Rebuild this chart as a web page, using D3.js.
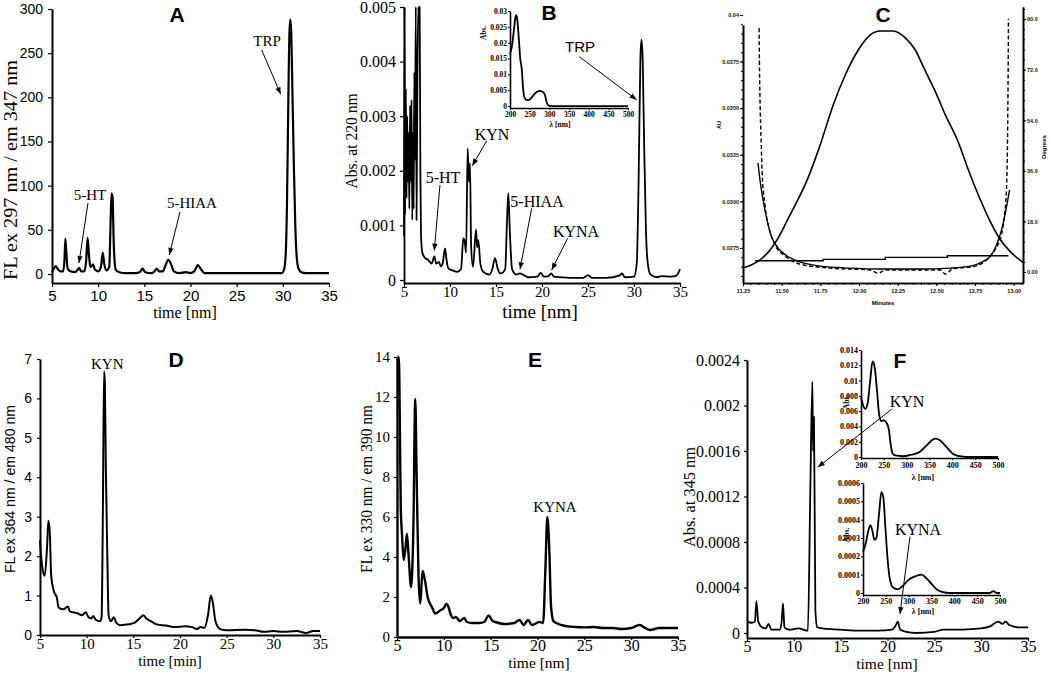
<!DOCTYPE html>
<html><head><meta charset="utf-8">
<script src="https://cdn.jsdelivr.net/npm/d3@7"></script>
<style>body{margin:0;background:#fff}svg{display:block}</style>
</head><body>
<svg id="c" width="1050" height="674"></svg>
<script>
// ---------- DATA ----------
const timeTicks = [5,10,15,20,25,30,35];
const waveTicks = [200,250,300,350,400,450,500];
const ticksA = [0,50,100,150,200,250,300];
const ticksB = [0,0.001,0.002,0.003,0.004,0.005];
const ticksBInset = [0,0.005,0.01,0.015,0.02,0.025,0.03];
const ticksD = [0,1,2,3,4,5,6,7];
const ticksE = [0,2,4,6,8,10,12,14];
const ticksF = [0,0.0004,0.0008,0.0012,0.0016,0.002,0.0024];
const ticksF1 = [0,0.002,0.004,0.006,0.008,0.01,0.012,0.014];
const ticksF2 = [0,0.0001,0.0002,0.0003,0.0004,0.0005,0.0006];
const cTimeTicks = [11.25,11.5,11.75,12.0,12.25,12.5,12.75,13.0];
const cLeftTicks = [0.0400,0.0375,0.0350,0.0325,0.0300,0.0275];
const cRightTicks = [0,18,36,54,72,90];

// Panel A: FL ex 297 / em 347
const traceA = [[5.0,2],[5.2,6],[5.4,9],[5.6,6],[5.9,3],[6.2,3],[6.35,15],[6.45,40],[6.55,25],[6.7,6],[7.0,3],[7.5,2],[7.8,5],[7.95,7],[8.15,3],[8.5,3],[8.7,15],[8.85,41],[9.0,22],[9.15,8],[9.3,9],[9.45,11],[9.65,5],[10.0,3],[10.3,8],[10.5,24],[10.65,12],[10.9,4],[11.2,8],[11.35,60],[11.45,91],[11.55,88],[11.7,30],[11.9,5],[12.3,2],[13,1],[14,1],[14.5,2],[14.8,6],[15.1,2],[15.8,1],[16.1,3],[16.35,6],[16.6,3],[17.0,3],[17.3,10],[17.6,16],[17.9,11],[18.2,3],[18.8,1],[19.5,2],[20.0,1],[20.4,3],[20.8,10],[21.1,6],[21.5,1],[23,1],[26,1],[29,1],[29.9,1],[30.1,4],[30.3,20],[30.45,80],[30.6,200],[30.72,275],[30.82,288],[30.92,270],[31.05,200],[31.2,120],[31.35,55],[31.5,20],[31.7,6],[32,2],[32.5,1],[35,1]];

// Panel B: Abs 220 nm
const traceB = [[5.0,0.0008],[5.05,0.005],[5.12,0.0012],[5.2,0.0035],[5.28,0.0015],[5.35,0.003],[5.42,0.0018],[5.5,0.0027],[5.58,0.0013],[5.66,0.0032],[5.74,0.0018],[5.82,0.0033],[5.9,0.0011],[5.98,0.0027],[6.05,0.0013],[6.12,0.0038],[6.2,0.0022],[6.28,0.005],[6.36,0.0011],[6.45,0.0035],[6.55,0.005],[6.62,0.0048],[6.7,0.005],[6.78,0.002],[6.85,0.0008],[7.0,0.0005],[7.3,0.0004],[7.6,0.00037],[8.0,0.0003],[8.3,0.00043],[8.5,0.0003],[8.8,0.00033],[9.0,0.00025],[9.2,0.0003],[9.46,0.00058],[9.6,0.0004],[9.8,0.00022],[10.2,0.00018],[10.8,0.00015],[11.2,0.0002],[11.45,0.00076],[11.6,0.0007],[11.75,0.0005],[11.92,0.00241],[12.05,0.0018],[12.17,0.00214],[12.3,0.0006],[12.5,0.00024],[12.83,0.00092],[12.95,0.0006],[13.08,0.00073],[13.3,0.0003],[13.6,0.00015],[14.3,0.0001],[14.6,0.0002],[14.89,0.0004],[15.2,0.0002],[15.5,0.00012],[16.0,0.0002],[16.2,0.0011],[16.34,0.00159],[16.5,0.0009],[16.75,0.0002],[17.2,0.0001],[17.6,0.00012],[18.5,0.00005],[19.5,0.00006],[19.85,0.00013],[20.2,0.00006],[20.7,0.00007],[21.0,0.00012],[21.3,0.00006],[22,0.00005],[23,0.00004],[24.5,0.00004],[25,0.00009],[25.4,0.00004],[27,0.00004],[28.4,0.00008],[28.7,0.00012],[29,0.00005],[30.0,0.00006],[30.3,0.0003],[30.5,0.0018],[30.7,0.0041],[30.82,0.0044],[30.95,0.004],[31.1,0.0025],[31.3,0.0009],[31.5,0.0003],[31.8,0.0001],[32.5,0.00005],[33,0.00007],[34,0.00006],[34.6,0.00008],[35,0.0002]];
const spectrumB = [[200,0.0165],[205,0.019],[210,0.024],[213,0.0275],[215.5,0.0287],[218,0.0278],[222,0.022],[226,0.015],[230,0.0115],[233,0.006],[236,0.003],[241,0.002],[247,0.0019],[255,0.0027],[263,0.0039],[270,0.0046],[277,0.0048],[284,0.0044],[289,0.0035],[292,0.0018],[295,0.0006],[299,0.0001],[320,0],[500,0]];

// Panel C: peak purity
const cPeak = [[11.250,0.02643],[11.341,0.02675],[11.425,0.02739],[11.470,0.02793],[11.554,0.02927],[11.665,0.03115],[11.749,0.03303],[11.833,0.03517],[11.911,0.03678],[11.995,0.03812],[12.073,0.03893],[12.137,0.03914],[12.222,0.03914],[12.299,0.03877],[12.364,0.03812],[12.416,0.03721],[12.494,0.03587],[12.558,0.03464],[12.636,0.03329],[12.707,0.03168],[12.785,0.03007],[12.850,0.02889],[12.915,0.02793],[12.979,0.02729],[13.064,0.02670]];
const cPurity = [[11.347,38.8],[11.360,32.7],[11.380,25.6],[11.405,18.5],[11.438,12.1],[11.477,8.5],[11.535,5.7],[11.619,3.6],[11.749,2.1],[11.943,1.4],[12.137,1.1],[12.396,1.1],[12.591,1.4],[12.720,2.1],[12.798,3.6],[12.850,5.7],[12.889,9.6],[12.921,14.9],[12.947,21.3],[12.973,29.2]];
const cNoise = [[11.354,86.8],[11.356,75.4],[11.360,61.2],[11.367,47.0],[11.373,36.3],[11.392,23.8],[11.418,15.7],[11.457,9.6],[11.522,5.7],[11.619,2.8],[11.813,1.4],[12.073,0.7],[12.124,-0.4],[12.170,0.7],[12.526,0.7],[12.558,-0.7],[12.604,1.1],[12.753,2.1],[12.837,5.0],[12.889,8.9],[12.921,13.2],[12.940,20.3],[12.953,29.2],[12.960,47.0],[12.964,71.9],[12.966,90.0]];
const cThreshold = [[11.328,4.0],[11.768,4.5],[12.170,5.2],[12.571,5.8],[12.966,5.8]];

// Panel D: FL ex 364 / em 480
const traceD = [[5.0,2.4],[5.2,1.8],[5.5,1.5],[5.75,2.2],[5.9,2.9],[6.05,2.6],[6.2,1.5],[6.5,1.1],[6.8,0.95],[7.0,0.7],[7.5,0.65],[8.0,0.72],[8.2,0.6],[9,0.55],[9.5,0.5],[9.9,0.58],[10.2,0.45],[10.5,0.42],[10.7,0.48],[11.0,0.38],[11.4,0.35],[11.6,0.45],[11.75,3.5],[11.86,6.68],[11.95,6.4],[12.05,4.3],[12.2,2.2],[12.35,0.5],[12.6,0.35],[12.9,0.45],[13.2,0.3],[13.6,0.25],[14.5,0.27],[15.2,0.32],[15.8,0.45],[16.05,0.5],[16.4,0.42],[17,0.33],[17.5,0.27],[18.5,0.24],[19.5,0.2],[20.5,0.22],[21.3,0.2],[21.8,0.15],[22.2,0.2],[22.6,0.18],[23.0,0.5],[23.3,1.0],[23.5,0.85],[23.8,0.35],[24.3,0.15],[25,0.12],[27,0.13],[28,0.12],[29,0.08],[30,0.1],[31,0.08],[32.5,0.1],[33.5,0.05],[34.3,0.1],[35,0.1]];

// Panel E: FL ex 330 / em 390
const traceE = [[5.05,14],[5.2,14],[5.3,10.8],[5.4,6.5],[5.55,5.0],[5.71,3.85],[5.9,4.4],[6.06,5.17],[6.25,4.0],[6.5,2.5],[6.75,5.5],[6.95,11.9],[7.1,8.0],[7.3,3.0],[7.48,1.67],[7.73,3.3],[8.0,2.8],[8.27,2.0],[8.73,1.5],[9.1,1.17],[9.6,1.33],[10.0,1.45],[10.25,1.65],[10.5,1.5],[10.7,1.17],[11.0,0.95],[11.3,1.0],[11.7,0.8],[12.2,0.95],[12.45,0.75],[13.0,0.7],[13.8,0.7],[14.3,0.75],[14.8,1.08],[15.2,0.8],[15.5,0.75],[16.5,0.65],[17.5,0.7],[18.1,0.85],[18.5,0.6],[19.0,0.85],[19.4,0.6],[20.2,0.75],[20.6,0.7],[20.85,3.5],[21.05,6.0],[21.25,4.5],[21.45,1.5],[21.7,0.8],[22,0.7],[23,0.55],[24,0.5],[25,0.48],[26,0.5],[27,0.45],[28,0.45],[29,0.4],[30,0.45],[30.9,0.6],[31.5,0.45],[32,0.35],[33,0.45],[34,0.45],[35,0.45]];

// Panel F: Abs 345 nm
const traceF = [[5,0.0001],[5.5,0.00009],[5.85,0.0001],[6.0,0.00028],[6.2,0.0001],[6.6,0.00005],[7.0,0.00004],[7.3,0.00008],[7.6,0.00003],[8.5,0.00003],[8.7,0.0001],[8.84,0.00026],[9.0,0.00005],[9.5,0.00003],[10.5,0.00004],[11.5,0.00002],[11.75,0.0012],[11.98,0.00221],[12.05,0.0016],[12.15,0.0019],[12.3,0.0002],[12.5,0.00005],[13,0.00004],[15,0.00003],[17,0.00002],[19,0.00002],[20.5,0.00003],[20.9,0.00007],[21.1,0.0001],[21.35,0.00003],[22,0.00001],[23,0.0],[25,0.00001],[26,0.00003],[28,0.00003],[30,0.00004],[31,0.00006],[31.8,0.0001],[32.3,0.00008],[32.6,0.0001],[33,0.00007],[34,0.00005],[35,0.00005]];
const spectrumKYN = [[200,0.0079],[204.4,0.0068],[209.4,0.0063],[214.5,0.007],[220.3,0.0101],[225.4,0.0125],[229.8,0.0118],[234.9,0.0088],[239.9,0.0055],[244.3,0.0047],[250.8,0.0048],[256.6,0.0044],[261,0.0036],[264.6,0.0018],[269,0.0005],[274.8,0.0002],[293,0.0001],[311.1,0.0003],[329.3,0.0007],[345.2,0.0016],[362,0.0024],[372.8,0.0022],[387.4,0.0013],[401.9,0.0004],[416.4,0.0001],[431,0],[500,0]];
const spectrumKYNA = [[200,0.000224],[205.9,0.00027],[211.7,0.00034],[216.1,0.00037],[220.5,0.00034],[224.9,0.00029],[229.3,0.0003],[235.1,0.00043],[240.2,0.00055],[244.6,0.00052],[249,0.00036],[253.4,0.0002],[258.5,0.00008],[265.8,0.00003],[276.8,0.00002],[287.8,0.00004],[298.8,0.00007],[313.4,0.00009],[328,0.0001],[339,0.00008],[350,0.00005],[361,0.00002],[375.6,0.000004],[390.2,0],[478,0],[485.4,0.00001],[492.7,0],[500,0]];

// Annotations (data coordinates): text, t, v, arrow [t0,v0,t1,v1]
const notesA = [{text:"5-HT",t:9.12,v:89.4,arrow:[8.90,80.4,7.92,12.5]},{text:"5-HIAA",t:20.16,v:80.4,arrow:[18.86,70.2,17.70,21.5]},{text:"TRP",t:28.29,v:263.8,arrow:[27.71,253.6,29.77,203.4]}];
const notesB = [{text:"5-HT",t:9.24,v:0.001886,arrow:[8.91,0.00174,8.29,0.000537]},{text:"KYN",t:14.57,v:0.002674,arrow:[13.99,0.002551,12.42,0.002093]},{text:"5-HIAA",t:19.46,v:0.001447,arrow:[18.88,0.001313,17.61,0.000196]},{text:"KYNA",t:23.70,v:0.000897,arrow:[22.79,0.000764,21.05,0.000183]}];
const notesBTRP = [{text:"TRP",t:24.13,v:0.004267,arrow:[24.05,0.00409,30.29,0.0033]}];
const notesD = [{text:"KYN",t:12.21,v:6.89}];
const notesE = [{text:"KYNA",t:21.87,v:6.5}];
const notesF = [{text:"KYN",t:22.08,v:0.00204,arrow:[20.45,0.001967,12.55,0.001457]},{text:"KYNA",t:23.26,v:0.000914,arrow:[22.40,0.000847,21.33,0.000167]}];

// ---------- DRAWING ----------
const SERIF = "'Liberation Serif','Times New Roman',serif";
const SANS = "'Liberation Sans',Arial,sans-serif";
const svg = d3.select("#c");
svg.append("rect").attr("width",1050).attr("height",674).attr("fill","#fff");
svg.append("defs").append("marker").attr("id","arr").attr("viewBox","0 0 10 10")
  .attr("refX",10).attr("refY",5).attr("markerWidth",8).attr("markerHeight",7)
  .attr("markerUnits","userSpaceOnUse").attr("orient","auto")
  .append("path").attr("d","M0,1.2L10,5L0,8.8z").attr("fill","#000");

const fmt = d => String(d);

function chart(o){
  const x = d3.scaleLinear().domain(o.xd).range(o.xr);
  const y = d3.scaleLinear().domain(o.yd).range(o.yr);
  const g = svg.append("g");
  const ax = g.append("g").attr("transform",`translate(0,${o.yr[0]})`)
    .call(d3.axisBottom(x).tickValues(o.xt).tickFormat(fmt).tickSize(o.ts).tickSizeOuter(0).tickPadding(o.xp));
  ax.attr("font-family",o.xfont).attr("font-size",o.xfs).attr("font-weight",o.fw||"normal");
  const ay = g.append("g").attr("transform",`translate(${o.xr[0]},0)`)
    .call(d3.axisLeft(y).tickValues(o.yt).tickFormat(fmt).tickSize(o.ts).tickSizeOuter(0).tickPadding(o.yp));
  ay.attr("font-family",o.yfont).attr("font-size",o.yfs).attr("font-weight",o.fw||"normal");
  g.selectAll(".domain").attr("stroke-width",o.aw).attr("stroke","#000");
  g.selectAll(".tick line").attr("stroke-width",o.tw||1.2).attr("stroke","#000");
  g.selectAll(".tick text").attr("fill","#000");
  g.append("path").datum(o.data).attr("fill","none").attr("stroke","#000")
    .attr("stroke-width",o.lw).attr("stroke-linejoin","round")
    .attr("d",d3.line().x(d=>x(d[0])).y(d=>y(d[1])).curve(d3.curveMonotoneX));
  return {x,y,g};
}
function notes(c, list, font, size){
  list.forEach(n=>{
    c.g.append("text").attr("x",c.x(n.t)).attr("y",c.y(n.v)).attr("dy","0.35em")
      .attr("text-anchor","middle").attr("font-family",font).attr("font-size",size).text(n.text);
    if(n.arrow){
      const a=n.arrow;
      c.g.append("line").attr("x1",c.x(a[0])).attr("y1",c.y(a[1])).attr("x2",c.x(a[2])).attr("y2",c.y(a[3]))
        .attr("stroke","#000").attr("stroke-width",1).attr("marker-end","url(#arr)");
    }
  });
}
function vtitle(txt,x,y,font,size,len,weight){
  svg.append("text").attr("transform",`translate(${x},${y}) rotate(-90)`).attr("text-anchor","middle")
    .attr("font-family",font).attr("font-size",size).attr("font-weight",weight||"normal")
    .attr("textLength",len).attr("lengthAdjust","spacingAndGlyphs").text(txt);
}
function htitle(txt,x,y,font,size,weight){
  svg.append("text").attr("x",x).attr("y",y).attr("text-anchor","middle")
    .attr("font-family",font).attr("font-size",size).attr("font-weight",weight||"normal").text(txt);
}

// Panel A
const cA = chart({xd:[5,35],xr:[52,329],yd:[-10.2,300],yr:[283,9],xt:timeTicks,yt:ticksA,
  ts:4,xp:3,yp:5,xfont:SANS,xfs:15,yfont:SANS,yfs:14,aw:2,lw:2.2,data:traceA});
notes(cA,notesA,SERIF,15);
vtitle("FL ex 297 nm / em 347 nm",17,170,SERIF,18,220);
htitle("time [nm]",185,318,SERIF,16);
htitle("A",177,22,SANS,21,"bold");

// Panel B
const cB = chart({xd:[5,35],xr:[404,680],yd:[-0.000055,0.005],yr:[283,7],xt:timeTicks,yt:ticksB,
  ts:4,xp:-1,yp:4,xfont:SERIF,xfs:15,yfont:SERIF,yfs:16,aw:1.8,lw:1.8,data:traceB});
notes(cB,notesB,SERIF,16);
notes(cB,notesBTRP,SANS,15);
vtitle("Abs. at 220 nm",357,141,SERIF,16,95);
htitle("time [nm]",540,318,SERIF,19);
htitle("B",549,20,SANS,21,"bold");
const cBi = chart({xd:[200,500],xr:[510,628],yd:[-0.0006,0.03],yr:[108,11],xt:waveTicks,yt:ticksBInset,
  ts:2,xp:2,yp:1,xfont:SERIF,xfs:7.5,yfont:SERIF,yfs:7.5,fw:"bold",aw:1.6,lw:1.8,tw:1,data:spectrumB});
vtitle("Abs.",486,33,SERIF,7.5,14,"bold");
htitle("λ [nm]",560,127,SERIF,7.5,"bold");

// Panel C
(function(){
  const x = d3.scaleLinear().domain([11.25,13.06]).range([743,1023]);
  const yl = d3.scaleLinear().domain([0.02562,0.03946]).range([283,25]);
  const yr = d3.scaleLinear().domain([-3.9,94.3]).range([283,7]);
  const g = svg.append("g");
  const small = s => s.attr("font-family",SANS).attr("font-size",5.5).attr("font-weight","bold");
  const minorX = d3.range(11.25,13.06,0.05), minorL = d3.range(0.0260,0.0395,0.0005), minorR = d3.range(0,94,3.6);
  g.append("g").attr("transform","translate(0,283)").call(d3.axisBottom(x).tickValues(minorX).tickFormat("").tickSize(2).tickSizeOuter(0));
  g.append("g").attr("transform","translate(0,283)").call(d3.axisBottom(x).tickValues(cTimeTicks).tickFormat(d3.format(".2f")).tickSize(3).tickSizeOuter(0).tickPadding(3)).call(small);
  g.append("g").attr("transform","translate(743,0)").call(d3.axisLeft(yl).tickValues(minorL).tickFormat("").tickSize(2).tickSizeOuter(0));
  g.append("g").attr("transform","translate(743,0)").call(d3.axisLeft(yl).tickValues(cLeftTicks).tickFormat(d=>d===0.04?"0.04":d3.format(".4f")(d)).tickSize(3).tickSizeOuter(0).tickPadding(1)).call(small);
  g.append("g").attr("transform","translate(1023,0)").call(d3.axisRight(yr).tickValues(minorR).tickFormat("").tickSize(2).tickSizeOuter(0));
  g.append("g").attr("transform","translate(1023,0)").call(d3.axisRight(yr).tickValues(cRightTicks).tickFormat(d=>d===0?"0.00":d.toFixed(1)).tickSize(3).tickSizeOuter(0).tickPadding(1)).call(small);
  g.selectAll(".domain").attr("stroke-width",1.6).attr("stroke","#000");
  g.selectAll(".tick line").attr("stroke","#000");
  g.selectAll(".tick text").attr("fill","#111");
  const lineL = d3.line().x(d=>x(d[0])).y(d=>yl(d[1])).curve(d3.curveMonotoneX);
  const lineR = d3.line().x(d=>x(d[0])).y(d=>yr(d[1])).curve(d3.curveMonotoneX);
  g.append("path").datum(cPeak).attr("d",lineL).attr("fill","none").attr("stroke","#000").attr("stroke-width",1.6);
  g.append("path").datum(cNoise).attr("d",lineR).attr("fill","none").attr("stroke","#000").attr("stroke-width",1.4).attr("stroke-dasharray","4,2.5");
  g.append("path").datum(cPurity).attr("d",lineR).attr("fill","none").attr("stroke","#000").attr("stroke-width",1.4);
  g.append("path").datum(cThreshold).attr("d",d3.line().x(d=>x(d[0])).y(d=>yr(d[1])).curve(d3.curveStepAfter)).attr("fill","none").attr("stroke","#000").attr("stroke-width",1.4);
  vtitle("AU",721,125,SANS,6,8,"bold");
  vtitle("Degrees",1046,147,SANS,6,24,"bold");
  htitle("Minutes",883,305,SANS,6,"bold");
  htitle("C",883,22,SANS,21,"bold");
})();

// Panel D
const cD = chart({xd:[5,35],xr:[40,320],yd:[0,7],yr:[635,359],xt:timeTicks,yt:ticksD,
  ts:3,xp:0.5,yp:5,xfont:SERIF,xfs:15,yfont:SANS,yfs:14,aw:2,lw:2,data:traceD});
notes(cD,notesD,SERIF,15);
vtitle("FL ex 364 nm / em 480 nm",15,489,SANS,14.5,168);
htitle("time [min]",170,666,SERIF,15);
htitle("D",176,367,SANS,21,"bold");

// Panel E
const cE = chart({xd:[5,35],xr:[397,678],yd:[0,14],yr:[637,357],xt:timeTicks,yt:ticksE,
  ts:3,xp:0,yp:4,xfont:SERIF,xfs:16,yfont:SERIF,yfs:15,aw:2.4,lw:2.4,data:traceE});
notes(cE,notesE,SERIF,15);
vtitle("FL ex 330 nm / em 390 nm",372,489,SERIF,16,168);
htitle("time [nm]",539,668,SERIF,15.5);
htitle("E",535,367,SANS,21,"bold");

// Panel F
const cF = chart({xd:[5,35],xr:[747,1028],yd:[-0.000044,0.0024],yr:[638,360],xt:timeTicks,yt:ticksF,
  ts:3,xp:0,yp:4,xfont:SERIF,xfs:16,yfont:SERIF,yfs:16,aw:2,lw:1.8,data:traceF});
notes(cF,notesF,SERIF,16);
vtitle("Abs. at 345 nm",695,497,SERIF,16,100);
htitle("time [nm]",887,669,SERIF,15.5);
const cF1 = chart({xd:[200,500],xr:[861,998],yd:[-0.00013,0.014],yr:[458,350],xt:waveTicks,yt:ticksF1,
  ts:2,xp:2.5,yp:1,xfont:SERIF,xfs:8,yfont:SERIF,yfs:8,fw:"bold",aw:1.6,lw:1.8,tw:1,data:spectrumKYN});
vtitle("Abs.",849,402,SERIF,8,15,"bold");
htitle("λ [nm]",923,479.5,SERIF,8,"bold");
const cF2 = chart({xd:[200,500],xr:[863,1000],yd:[-0.000011,0.0006],yr:[595,483],xt:waveTicks,yt:ticksF2,
  ts:2,xp:1.5,yp:1,xfont:SERIF,xfs:8,yfont:SERIF,yfs:8,fw:"bold",aw:1.6,lw:1.8,tw:1,data:spectrumKYNA});
vtitle("Abs.",849,535,SERIF,8,15,"bold");
htitle("λ [nm]",923,613.5,SERIF,8,"bold");
htitle("F",900,368,SANS,21,"bold");
</script>
</body></html>
